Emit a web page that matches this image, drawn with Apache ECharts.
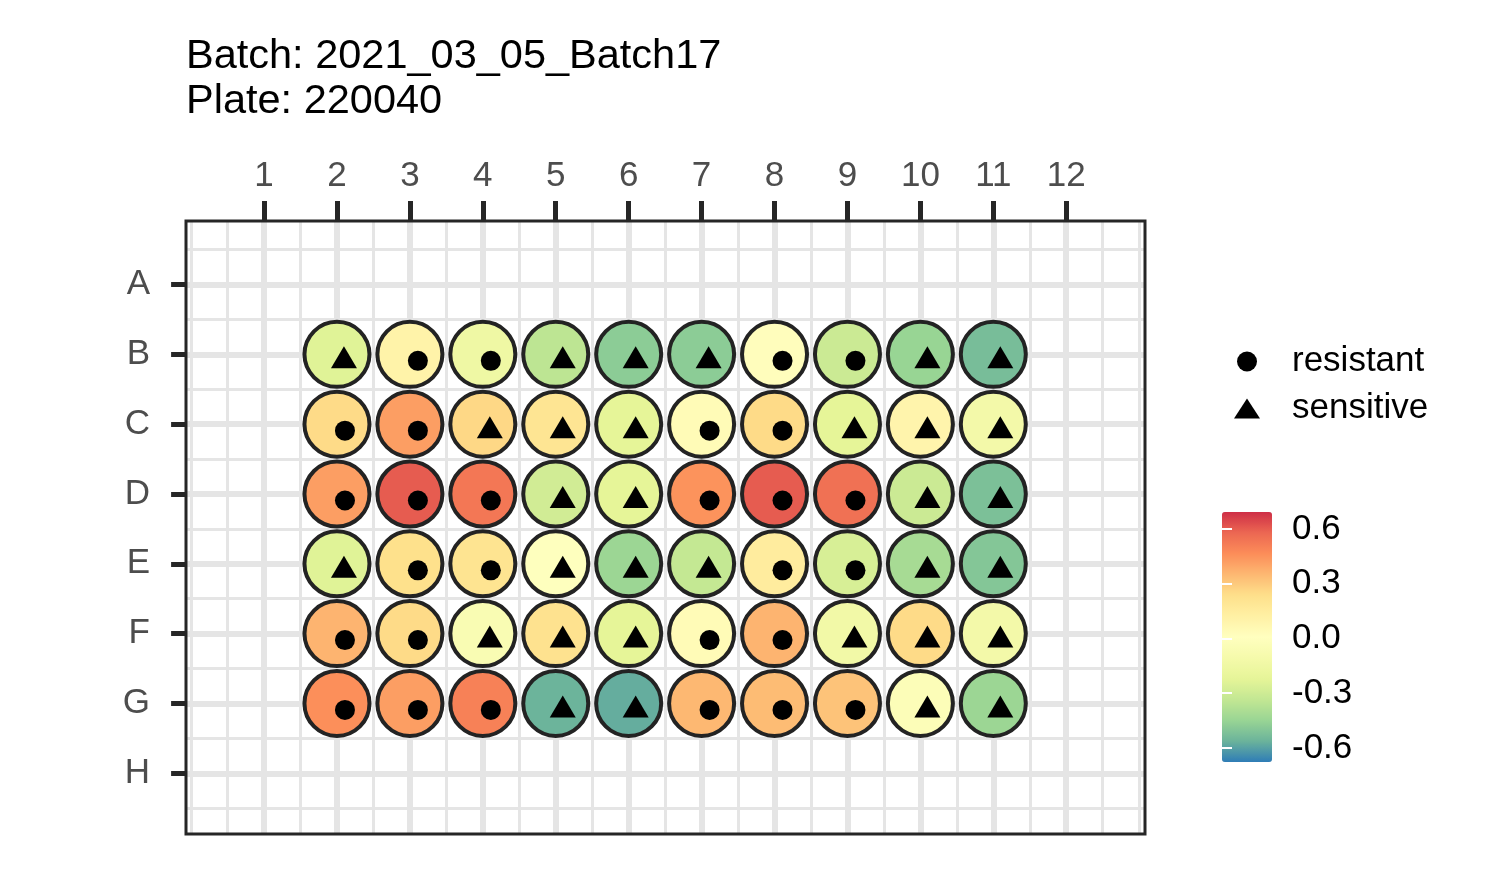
<!DOCTYPE html>
<html>
<head>
<meta charset="utf-8">
<script src="https://cdn.jsdelivr.net/npm/echarts@6/dist/echarts.min.js"></script>
<style>html,body{margin:0;padding:0;background:#fff;}#c{width:1500px;height:875px;}</style>
</head>
<body>
<div id="c"></div>
<script>
// ---- data ----
const colLabels = [1,2,3,4,5,6,7,8,9,10,11,12];
const rowLabels = ['A','B','C','D','E','F','G','H'];
const wellCols = [2,3,4,5,6,7,8,9,10,11];
const wellRows = ['B','C','D','E','F','G'];
// score per well (rows B..G, columns 2..11)
const rowB = [-0.24, 0.10, -0.15, -0.35, -0.48, -0.48, 0.02, -0.31, -0.45, -0.53];
const rowC = [0.25, 0.42, 0.26, 0.20, -0.22, 0.04, 0.25, -0.22, 0.09, -0.12];
const rowD = [0.42, 0.60, 0.53, -0.29, -0.22, 0.45, 0.60, 0.55, -0.31, -0.52];
const rowE = [-0.24, 0.23, 0.21, 0.00, -0.44, -0.33, 0.15, -0.27, -0.41, -0.50];
const rowF = [0.36, 0.25, -0.06, 0.22, -0.22, 0.04, 0.36, -0.13, 0.25, -0.12];
const rowG = [0.46, 0.42, 0.50, -0.56, -0.575, 0.35, 0.34, 0.32, -0.03, -0.44];
// R = resistant (dot), S = sensitive (triangle)
const typeB = ['S','R','R','S','S','S','R','R','S','S'];
const typeC = ['R','R','S','S','S','R','R','S','S','S'];
const typeD = ['R','R','R','S','S','R','R','R','S','S'];
const typeE = ['S','R','R','S','S','S','R','R','S','S'];
const typeF = ['R','R','S','S','S','R','R','S','S','S'];
const typeG = ['R','R','R','S','S','R','R','R','S','S'];
const scaleMin = -0.677, scaleMax = 0.693;
const barTicks = [-0.6, -0.3, 0.0, 0.3, 0.6];
const titleText = 'Batch: 2021_03_05_Batch17\nPlate: 220040';

const values = [rowB,rowC,rowD,rowE,rowF,rowG];
const types = [typeB,typeC,typeD,typeE,typeF,typeG];
const wells = [], resistant = [], sensitive = [];
wellRows.forEach((r, i) => {
  const y = rowLabels.indexOf(r) + 1;
  wellCols.forEach((c, j) => {
    wells.push([c, y, values[i][j]]);
    (types[i][j] === 'R' ? resistant : sensitive).push([c, y]);
  });
});
const rowIdx = rowLabels.map((_, i) => i + 1);
const majorX = colLabels.map(v => ({xAxis: v}));
const minorX = [0].concat(colLabels.map(v => v - 0.5), [12.5, 13]).map(v => ({xAxis: v}));
const majorY = rowIdx.map(v => ({yAxis: v}));
const minorY = rowIdx.map(v => v - 0.5).concat([8.5]).map(v => ({yAxis: v}));

const FONT = 'Liberation Sans, Arial, Helvetica, sans-serif';
const chart = echarts.init(document.getElementById('c'), null, {renderer: 'canvas'});
chart.setOption({
  animation: false,
  backgroundColor: '#ffffff',
  textStyle: {fontFamily: FONT},
  title: {
    text: titleText, left: 186, top: 34, padding: 0,
    textStyle: {fontFamily: FONT, fontSize: 41.5, fontWeight: 'normal', color: '#000', lineHeight: 45}
  },
  grid: [
    {left: 186, right: 355, top: 221, bottom: 41, show: true, z: 2,
     backgroundColor: 'rgba(0,0,0,0)', borderColor: '#262626', borderWidth: 3},
    {left: 1222, top: 512, width: 50, height: 250, show: false}
  ],
  xAxis: [
    {type: 'value', gridIndex: 0, position: 'top', min: -0.07, max: 13.08,
     axisLine: {show: false}, splitLine: {show: false},
     axisTick: {show: true, customValues: colLabels, length: 20, lineStyle: {color: '#262626', width: 5}},
     axisLabel: {customValues: colLabels, margin: 27, fontSize: 35, color: '#4d4d4d', fontFamily: FONT}},
    {type: 'value', gridIndex: 1, min: 0, max: 1, show: false}
  ],
  yAxis: [
    {type: 'value', gridIndex: 0, inverse: true, min: 0.09, max: 8.87,
     axisLine: {show: false}, splitLine: {show: false},
     axisTick: {show: true, customValues: rowIdx, length: 20, lineStyle: {color: '#262626', width: 5}},
     axisLabel: {customValues: rowIdx, margin: 36, fontSize: 35, color: '#4d4d4d', fontFamily: FONT,
                 formatter: v => rowLabels[Math.round(v) - 1]}},
    {type: 'value', gridIndex: 1, position: 'right', min: scaleMin, max: scaleMax, z: 10,
     axisLine: {show: false}, splitLine: {show: false},
     axisTick: {show: true, inside: true, customValues: barTicks, length: 10, lineStyle: {color: '#ffffff', width: 2}},
     axisLabel: {customValues: barTicks, margin: 20, fontSize: 35, color: '#000', fontFamily: FONT,
                 formatter: v => v.toFixed(1)}},
    {type: 'value', gridIndex: 1, position: 'left', min: scaleMin, max: scaleMax, z: 10,
     axisLine: {show: false}, splitLine: {show: false},
     axisTick: {show: true, inside: true, customValues: barTicks, length: 10, lineStyle: {color: '#ffffff', width: 2}},
     axisLabel: {show: false}}
  ],
  visualMap: {
    type: 'continuous', seriesIndex: 0, dimension: 2, min: scaleMin, max: scaleMax,
    left: 1222, top: 512, itemWidth: 50, itemHeight: 250, padding: 0,
    calculable: false, hoverLink: false, orient: 'vertical',
    inRange: {color: ['#2F7DB6','#6BB39B','#99D594','#C3E793','#E6F598','#F5FAAB','#FFFFBF',
                      '#FFF0A4','#FEE08B','#FDB872','#FC8D59','#EC6752','#CE2E46']}
  },
  legend: {
    data: [{name: 'resistant', icon: 'circle'}, {name: 'sensitive', icon: 'triangle'}],
    orient: 'vertical', left: 1234, top: 344, itemWidth: 26, itemHeight: 20, itemGap: 12,
    padding: 0, selectedMode: false,
    itemStyle: {color: '#000', borderWidth: 0, opacity: 1},
    textStyle: {fontSize: 35, color: '#000', fontFamily: FONT, padding: [0,0,0,27]}
  },
  series: [
    {name: 'wells', type: 'scatter', data: wells, symbol: 'circle', symbolSize: 65, z: 3,
     itemStyle: {borderColor: '#232323', borderWidth: 4, opacity: 1}, silent: true},
    {name: 'resistant', type: 'scatter', data: resistant, symbol: 'circle', symbolSize: 20,
     symbolOffset: [8, 6.5], z: 4, itemStyle: {color: '#000', opacity: 1}, silent: true},
    {name: 'sensitive', type: 'scatter', data: sensitive, symbol: 'triangle', symbolSize: [26, 22],
     symbolOffset: [7, 3], z: 4, itemStyle: {color: '#000', opacity: 1}, silent: true},
    {name: 'gridMinor', type: 'scatter', data: [], silent: true,
     markLine: {silent: true, symbol: 'none', z: 1, label: {show: false},
                lineStyle: {color: '#e5e5e5', width: 3, type: 'solid'},
                emphasis: {disabled: true}, data: minorX.concat(minorY)}},
    {name: 'gridMajor', type: 'scatter', data: [], silent: true,
     markLine: {silent: true, symbol: 'none', z: 1, label: {show: false},
                lineStyle: {color: '#e5e5e5', width: 6, type: 'solid'},
                emphasis: {disabled: true}, data: majorX.concat(majorY)}}
  ]
});
</script>
</body>
</html>
